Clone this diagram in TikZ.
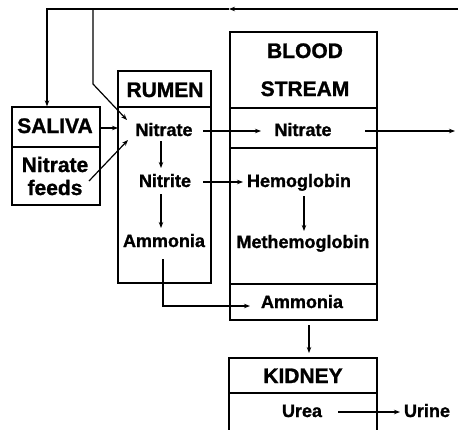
\documentclass[tikz,border=0pt]{standalone}
\usepackage{fontspec}
\setmainfont{Liberation Sans}[BoldFont=Liberation Sans Bold,BoldFeatures={FakeBold=1.2}]
\usetikzlibrary{arrows.meta,calc}
\begin{document}
\begin{tikzpicture}[x=1pt,y=-1pt,
  line width=1.2pt,
  arr/.style={-{Stealth[length=6pt,width=4.5pt]}},
  box/.style={draw,line width=1.3pt,inner sep=0pt},
  txt/.style={anchor=base,inner sep=0pt,font=\bfseries\fontsize{18}{20}\selectfont},
  hdr/.style={anchor=base,inner sep=0pt,font=\bfseries\fontsize{21}{23}\selectfont},
]
\useasboundingbox (0,0) rectangle (458,429);
% boxes
\node[box,minimum width=88,minimum height=98] (salbox) at (56,156) {};
\coordinate (salL) at (12,147);
\coordinate (salR) at (100,147);
\draw[line width=1.3pt] (salL) -- (salR);
\node[box,minimum width=93,minimum height=212] (rumbox) at (164.5,177) {};
\coordinate (rumL) at (118,107);
\coordinate (rumR) at (211,107);
\draw[line width=1.3pt] (rumL) -- (rumR);
\node[box,minimum width=147,minimum height=288] (blbox) at (303.5,176) {};
\coordinate (bl1L) at (230,108);
\coordinate (bl1R) at (377,108);
\coordinate (bl2L) at (230,148);
\coordinate (bl2R) at (377,148);
\coordinate (bl3L) at (230,284);
\coordinate (bl3R) at (377,284);
\draw[line width=1.3pt] (bl1L) -- (bl1R);
\draw[line width=1.3pt] (bl2L) -- (bl2R);
\draw[line width=1.3pt] (bl3L) -- (bl3R);
\coordinate (kdbl) at (229,430);
\coordinate (kdtl) at (229,358);
\coordinate (kdtr) at (377,358);
\coordinate (kdbr) at (377,430);
\draw[line width=1.3pt] (kdbl) -- (kdtl) -- (kdtr) -- (kdbr);
\coordinate (kdmL) at (229,393);
\coordinate (kdmR) at (377,393);
\draw[line width=1.3pt] (kdmL) -- (kdmR);
% texts
\node[hdr] (saliva) at (55,133) {SALIVA};
\node[hdr] (feeds1) at (55,172) {Nitrate};
\node[hdr] (feeds2) at (55,195) {feeds};
\node[hdr] (rumen) at (165,97) {RUMEN};
\node[txt] (rnit) at (164,136) {Nitrate};
\node[txt] (rnitr) at (165,187) {Nitrite};
\node[txt] (ramm) at (164,247) {Ammonia};
\node[hdr] (blood) at (305,58) {BLOOD};
\node[hdr] (stream) at (305,96) {STREAM};
\node[txt] (bnit) at (303,136) {Nitrate};
\node[txt] (hemo) at (299,187) {Hemoglobin};
\node[txt] (metho) at (303,248) {Methemoglobin};
\node[txt] (bamm) at (302,308) {Ammonia};
\node[hdr] (kidney) at (303,383) {KIDNEY};
\node[txt] (urea) at (302,417) {Urea};
\node[txt] (urine) at (427,417) {Urine};
% connectors
\coordinate (tr) at (458,9);
\coordinate (tm) at (229,9);
\coordinate (tl) at (47,9);
\coordinate (tb) at (93,9);
\coordinate (tbb) at (93,84);
\coordinate (nout) at (455,131);
\draw[arr] (tr) -- (tm);
\draw[arr] (tm) -- (tl) -- (tl |- salbox.north);
\draw[arr] (tb) -- (tbb) -- ($(rnit.base)+(-37,-16)$);
\draw[arr] ($(saliva.base)+(45,-5)$) -- ($(saliva.base)+(63,-5)$);
\draw[arr] ($(feeds2.base)+(34,-14)$) -- ($(rnit.base)+(-36,4)$);
\draw[arr] ($(rnit.base)+(39,-5)$) -- ($(bnit.base)+(-42,-5)$);
\draw[arr] ($(bnit.base)+(62,-5)$) -- (nout);
\draw[arr] ($(rnit.base)+(-3,5)$) -- ($(rnitr.base)+(-4,-19)$);
\draw[arr] ($(rnitr.base)+(-4,7)$) -- ($(ramm.base)+(-3,-19)$);
\draw[arr] ($(rnitr.base)+(38,-5)$) -- ($(hemo.base)+(-56,-5)$);
\draw[arr] ($(hemo.base)+(5,9)$) -- ($(metho.base)+(1,-17)$);
\draw[arr] ($(ramm.base)+(-1,12)$) |- ($(bamm.base)+(-52,-2)$);
\draw[arr] ($(bamm.base)+(7,17)$) -- ($(kidney.base)+(6,-30)$);
\draw[arr] ($(urea.base)+(36,-5)$) -- ($(urine.base)+(-27,-5)$);
\end{tikzpicture}
\end{document}
